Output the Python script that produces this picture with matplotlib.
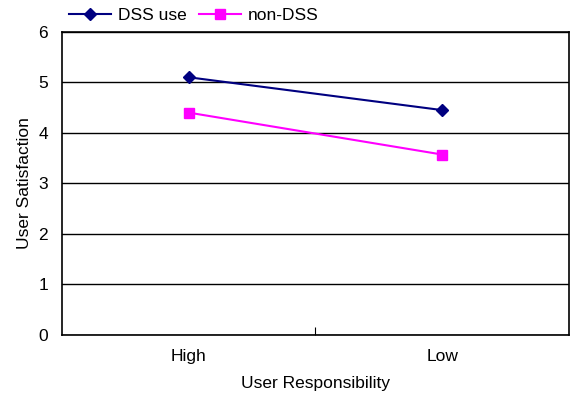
import matplotlib
matplotlib.use('Agg')
import matplotlib.pyplot as plt

# Data
categories = ['High', 'Low']
dss_use = [5.1, 4.45]
non_dss = [4.4, 3.57]

plt.rcParams['font.family'] = ['Liberation Sans', 'DejaVu Sans']

fig = plt.figure(figsize=(5.7, 3.93), dpi=100)
ax = fig.add_axes([0.109, 0.148, 0.889, 0.771])

x = [0.5, 1.5]
ax.plot(x, dss_use, color='#000080', marker='D', markersize=6, linewidth=1.5, label='DSS use')
ax.plot(x, non_dss, color='#FF00FF', marker='s', markersize=7, linewidth=1.5, label='non-DSS')

ax.set_xlim(0, 2)
ax.set_ylim(0, 6)
ax.set_yticks(range(0, 7))
ax.yaxis.grid(True, color='black', linewidth=1)
ax.set_axisbelow(True)

# category labels between ticks, single tick at the boundary
ax.set_xticks([1])
ax.set_xticklabels([''])
ax.tick_params(axis='x', direction='in', length=6, color='black')
ax.set_xticks(x, minor=True)
ax.set_xticklabels(categories, minor=True, fontsize=12.5)
ax.tick_params(axis='x', which='minor', length=0, pad=10)
ax.tick_params(axis='y', length=0, labelsize=12.5, pad=10)

for s in ax.spines.values():
    s.set_linewidth(1.2)

ax.set_xlabel('User Responsibility', fontsize=12.5, labelpad=9)
ax.set_ylabel('User Satisfaction', fontsize=12.5, labelpad=5)

ax.legend(loc='lower left', bbox_to_anchor=(0.0, 1.005), ncol=2, frameon=False,
          fontsize=12.5, handlelength=2.4, columnspacing=0.75, borderaxespad=0, handletextpad=0.4)

fig.savefig('out.png', dpi=100)
